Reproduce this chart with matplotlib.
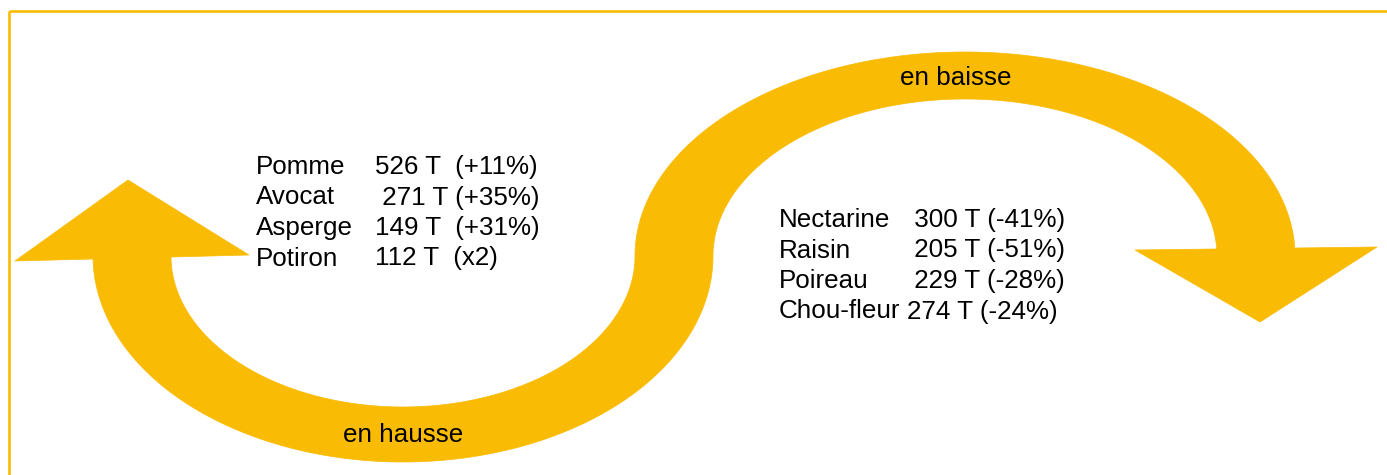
import numpy as np
import matplotlib
matplotlib.use('Agg')
import matplotlib.pyplot as plt
from matplotlib.patches import Polygon, Rectangle

# produits en hausse / en baisse
up_names = ['Pomme', 'Avocat', 'Asperge', 'Potiron']
up_values = ['526 T  (+11%)', ' 271 T (+35%)', '149 T  (+31%)', '112 T  (x2)']
down_names = ['Nectarine', 'Raisin', 'Poireau', 'Chou-fleur']
down_values = [' 300 T (-41%)', ' 205 T (-51%)', ' 229 T (-28%)', '274 T (-24%)']
label_up = 'en hausse'
label_down = 'en baisse'

orange = '#F9BB03'
plt.rcParams['font.family'] = ['Liberation Sans', 'DejaVu Sans']

fig = plt.figure(figsize=(13.87, 4.75), dpi=100)
ax = fig.add_axes([0, 0, 1, 1])
ax.set_xlim(0, 1387)
ax.set_ylim(475, 0)
ax.axis('off')

# cadre
ax.add_patch(Rectangle((9, 11.3), 1390, 480, fill=False, edgecolor=orange, lw=1.9))


def band(cx, cy, rxo, ryo, rxi, ryi, t0, t1):
    t = np.linspace(t0, t1, 200)
    outer = np.column_stack([cx + rxo * np.cos(t), cy + ryo * np.sin(t)])
    inner = np.column_stack([cx + rxi * np.cos(t[::-1]), cy + ryi * np.sin(t[::-1])])
    return np.vstack([outer, inner])


# fleche du bas (en hausse), vers la gauche puis le haut
lower = band(403, 256, 310, 206, 232, 151, 0, np.pi)
ax.add_patch(Polygon(lower, closed=True, facecolor=orange, edgecolor=orange, lw=0.5))
ax.add_patch(Polygon([(15, 261), (128, 180), (249, 255)], closed=True,
                     facecolor=orange, edgecolor=orange, lw=0.5))

# fleche du haut (en baisse), vers la droite puis le bas
upper = band(965, 256, 330, 204, 252, 157, np.pi, 2 * np.pi)
ax.add_patch(Polygon(upper, closed=True, facecolor=orange, edgecolor=orange, lw=0.5))
ax.add_patch(Polygon([(1135, 250), (1377, 247), (1260, 322)], closed=True,
                     facecolor=orange, edgecolor=orange, lw=0.5))

fs = 18.7
for i, (n, v) in enumerate(zip(up_names, up_values)):
    y = 174 + i * 30.5
    ax.text(256, y, n, fontsize=fs, va='baseline', ha='left')
    ax.text(375, y, v, fontsize=fs, va='baseline', ha='left')

for i, (n, v) in enumerate(zip(down_names, down_values)):
    y = 227 + i * 30.5
    ax.text(779, y, n, fontsize=fs, va='baseline', ha='left')
    ax.text(907, y, v, fontsize=fs, va='baseline', ha='left')

ax.text(403, 442, label_up, fontsize=fs, va='baseline', ha='center')
ax.text(956, 85, label_down, fontsize=fs, va='baseline', ha='center')

fig.savefig('out.png', dpi=100)
